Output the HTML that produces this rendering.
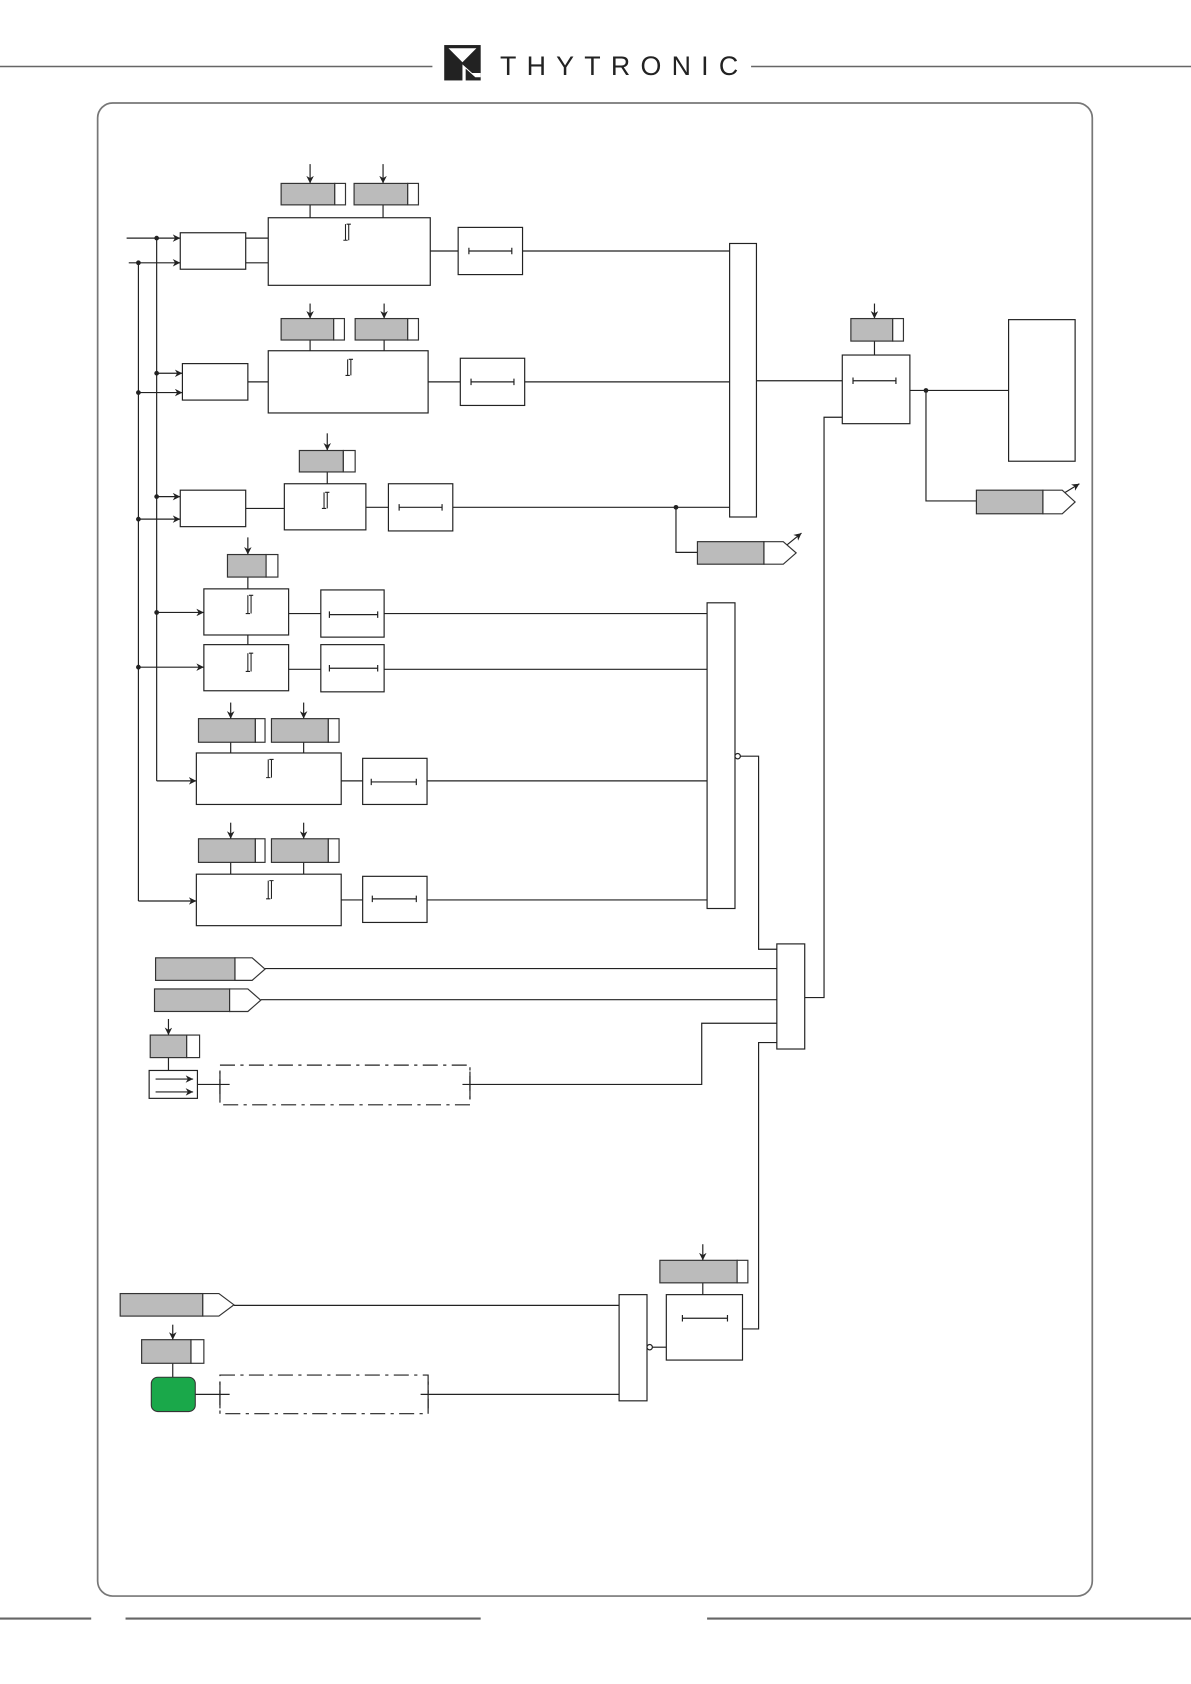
<!DOCTYPE html>
<html><head><meta charset="utf-8"><style>
html,body{margin:0;padding:0;background:#fff;}
svg{display:block;}
</style></head><body>
<svg width="1191" height="1684" viewBox="0 0 1110 1570" preserveAspectRatio="none" xmlns="http://www.w3.org/2000/svg">
<defs>
<marker id="ar" viewBox="0 0 10 10" refX="10" refY="5" markerWidth="7" markerHeight="7" orient="auto" markerUnits="userSpaceOnUse"><path d="M0,0 L10,5 L0,10 L3,5 z" fill="#222"/></marker>
</defs>
<!-- header -->
<g stroke="#666" stroke-width="1.3"><line x1="0" y1="62" x2="403" y2="62"/><line x1="700" y1="62" x2="1110" y2="62"/></g>
<rect x="414" y="42" width="34" height="33" fill="#222"/>
<path d="M418,45 L444,45 L431,58 Z" fill="#fff"/>
<path d="M431,60 L431,75 L434,75 L434,64 L443,72 L448,72 L448,68 L440,68 Z" fill="#fff"/>
<text x="466" y="70" font-family="Liberation Sans, sans-serif" font-size="25" fill="#222" textLength="222" lengthAdjust="spacing">THYTRONIC</text>
<!-- frame -->
<rect x="91" y="96" width="927" height="1392" rx="14" fill="none" stroke="#777" stroke-width="1.6"/>
<g stroke="#666" stroke-width="2"><line x1="0" y1="1509" x2="85" y2="1509"/><line x1="117" y1="1509" x2="448" y2="1509"/><line x1="659" y1="1509" x2="1110" y2="1509"/></g>

<g fill="none" stroke="#222" stroke-width="1.1">
<!-- verticals -->
<line x1="146" y1="222" x2="146" y2="728"/>
<line x1="129" y1="245" x2="129" y2="840"/>

<!-- Block 1 -->
<line x1="118" y1="222" x2="168" y2="222" marker-end="url(#ar)"/>
<line x1="120" y1="245" x2="168" y2="245" marker-end="url(#ar)"/>
<rect x="168" y="217" width="61" height="34"/>
<line x1="229" y1="222" x2="250" y2="222"/><line x1="229" y1="245" x2="250" y2="245"/>
<rect x="250" y="203" width="151" height="63"/>
<line x1="289" y1="153" x2="289" y2="171" marker-end="url(#ar)"/>
<line x1="357" y1="153" x2="357" y2="171" marker-end="url(#ar)"/>
<line x1="289" y1="191" x2="289" y2="203"/><line x1="357" y1="191" x2="357" y2="203"/>
<line x1="401" y1="234" x2="427" y2="234"/>
<rect x="427" y="212" width="60" height="44"/>
<path d="M437,234 H477 M437,231 v6 M477,231 v6"/>
<line x1="487" y1="234" x2="680" y2="234"/>
<rect x="680" y="227" width="25" height="255"/>

<!-- Block 2 -->
<line x1="146" y1="348" x2="170" y2="348" marker-end="url(#ar)"/>
<line x1="129" y1="366" x2="170" y2="366" marker-end="url(#ar)"/>
<rect x="170" y="339" width="61" height="34"/>
<line x1="231" y1="356" x2="250" y2="356"/>
<rect x="250" y="327" width="149" height="58"/>
<line x1="289" y1="283" x2="289" y2="297" marker-end="url(#ar)"/>
<line x1="358" y1="283" x2="358" y2="297" marker-end="url(#ar)"/>
<line x1="289" y1="317" x2="289" y2="327"/><line x1="358" y1="317" x2="358" y2="327"/>
<line x1="399" y1="356" x2="429" y2="356"/>
<rect x="429" y="334" width="60" height="44"/>
<path d="M439,356 H479 M439,353 v6 M479,353 v6"/>
<line x1="489" y1="356" x2="680" y2="356"/>

<!-- Block 3 -->
<line x1="146" y1="463" x2="168" y2="463" marker-end="url(#ar)"/>
<line x1="129" y1="484" x2="168" y2="484" marker-end="url(#ar)"/>
<rect x="168" y="457" width="61" height="34"/>
<line x1="229" y1="474" x2="265" y2="474"/>
<rect x="265" y="451" width="76" height="43"/>
<line x1="305" y1="404" x2="305" y2="420" marker-end="url(#ar)"/>
<line x1="305" y1="440" x2="305" y2="451"/>
<line x1="341" y1="473" x2="362" y2="473"/>
<rect x="362" y="451" width="60" height="44"/>
<path d="M372,473 H412 M372,470 v6 M412,470 v6"/>
<line x1="422" y1="473" x2="680" y2="473"/>
<path d="M630,473 V515 H650"/>
<line x1="731" y1="510" x2="747" y2="497" marker-end="url(#ar)"/>

<!-- Block 4 -->
<line x1="231" y1="501" x2="231" y2="517" marker-end="url(#ar)"/>
<line x1="231" y1="538" x2="231" y2="549"/>
<rect x="190" y="549" width="79" height="43"/>
<line x1="231" y1="592" x2="231" y2="601"/>
<rect x="190" y="601" width="79" height="43"/>
<line x1="146" y1="571" x2="190" y2="571" marker-end="url(#ar)"/>
<line x1="129" y1="622" x2="190" y2="622" marker-end="url(#ar)"/>
<line x1="269" y1="572" x2="299" y2="572"/><line x1="269" y1="624" x2="299" y2="624"/>
<rect x="299" y="550" width="59" height="44"/>
<path d="M307,573 H352 M307,570 v6 M352,570 v6"/>
<rect x="299" y="601" width="59" height="44"/>
<path d="M307,623 H352 M307,620 v6 M352,620 v6"/>
<line x1="358" y1="572" x2="659" y2="572"/>
<line x1="358" y1="624" x2="659" y2="624"/>
<rect x="659" y="562" width="26" height="285"/>

<!-- Block 5 -->
<line x1="215" y1="655" x2="215" y2="670" marker-end="url(#ar)"/>
<line x1="283" y1="655" x2="283" y2="670" marker-end="url(#ar)"/>
<line x1="215" y1="692" x2="215" y2="702"/><line x1="283" y1="692" x2="283" y2="702"/>
<rect x="183" y="702" width="135" height="48"/>
<line x1="146" y1="728" x2="183" y2="728" marker-end="url(#ar)"/>
<line x1="318" y1="728" x2="338" y2="728"/>
<rect x="338" y="707" width="60" height="43"/>
<path d="M346,729 H388 M346,726 v6 M388,726 v6"/>
<line x1="398" y1="728" x2="659" y2="728"/>

<!-- Block 6 -->
<line x1="215" y1="767" x2="215" y2="782" marker-end="url(#ar)"/>
<line x1="283" y1="767" x2="283" y2="782" marker-end="url(#ar)"/>
<line x1="215" y1="804" x2="215" y2="815"/><line x1="283" y1="804" x2="283" y2="815"/>
<rect x="183" y="815" width="135" height="48"/>
<line x1="129" y1="840" x2="183" y2="840" marker-end="url(#ar)"/>
<line x1="318" y1="839" x2="338" y2="839"/>
<rect x="338" y="817" width="60" height="43"/>
<path d="M347,838 H388 M347,835 v6 M388,835 v6"/>
<line x1="398" y1="839" x2="659" y2="839"/>

<!-- OR2 out -->
<circle cx="687.5" cy="705" r="2.5" fill="#fff"/>
<path d="M690,705 H707 V885 H724"/>
<rect x="724" y="880" width="26" height="98"/>
<line x1="247" y1="903" x2="724" y2="903"/>
<line x1="243" y1="932" x2="724" y2="932"/>
<line x1="157" y1="950" x2="157" y2="965" marker-end="url(#ar)"/>
<line x1="157" y1="986" x2="157" y2="998"/>
<rect x="139" y="998" width="45" height="26"/>
<line x1="145" y1="1006" x2="180" y2="1006" marker-end="url(#ar)"/>
<line x1="145" y1="1018" x2="180" y2="1018" marker-end="url(#ar)"/>
<line x1="184" y1="1011" x2="214" y2="1011"/>
<rect x="205" y="993" width="233" height="37" stroke-dasharray="14,5,3,5"/>
<line x1="205" y1="999" x2="205" y2="1025"/><line x1="438" y1="999" x2="438" y2="1025"/>
<path d="M431,1011 H654 V954 H724"/>
<path d="M724,972 H707 V1239 H692"/>
<path d="M750,930 H768 V389 H785"/>

<!-- right -->
<line x1="705" y1="355" x2="785" y2="355"/>
<line x1="815" y1="283" x2="815" y2="297" marker-end="url(#ar)"/>
<line x1="815" y1="318" x2="815" y2="331"/>
<rect x="785" y="331" width="63" height="64"/>
<path d="M795,355 H835 M795,352 v6 M835,352 v6"/>
<line x1="848" y1="364" x2="940" y2="364"/>
<path d="M863,364 V467 H910"/>
<rect x="940" y="298" width="62" height="132"/>
<line x1="988" y1="462" x2="1006" y2="451" marker-end="url(#ar)"/>

<!-- bottom -->
<line x1="218" y1="1217" x2="577" y2="1217"/>
<line x1="161" y1="1235" x2="161" y2="1249" marker-end="url(#ar)"/>
<line x1="161" y1="1271" x2="161" y2="1284"/>
<line x1="182" y1="1300" x2="214" y2="1300"/>
<rect x="205" y="1282" width="194" height="36" stroke-dasharray="14,5,3,5"/>
<line x1="205" y1="1288" x2="205" y2="1313"/><line x1="399" y1="1288" x2="399" y2="1313"/>
<line x1="392" y1="1300" x2="577" y2="1300"/>
<rect x="577" y="1207" width="26" height="99"/>
<circle cx="605.5" cy="1256" r="2.5" fill="#fff"/>
<line x1="608" y1="1256" x2="621" y2="1256"/>
<rect x="621" y="1207" width="71" height="61"/>
<path d="M636,1229 H678 M636,1226 v6 M678,1226 v6"/>
<line x1="655" y1="1160" x2="655" y2="1175" marker-end="url(#ar)"/>
<line x1="655" y1="1196" x2="655" y2="1207"/>

<!-- integrals -->
<g stroke-width="1">
<path d="M320,224 h4 M322,224 v-15 M325,224 v-15 M323,209 h4"/>
<path d="M322,350 h4 M324,350 v-15 M327,350 v-15 M325,335 h4"/>
<path d="M300,474 h4 M302,474 v-15 M305,474 v-15 M303,459 h4"/>
<path d="M229,572 h4 M231,572 v-17 M234,572 v-17 M232,555 h4"/>
<path d="M229,626 h4 M231,626 v-17 M234,626 v-17 M232,609 h4"/>
<path d="M248,725 h4 M250,725 v-17 M253,725 v-17 M251,708 h4"/>
<path d="M248,838 h4 M250,838 v-17 M253,838 v-17 M251,821 h4"/>
</g>
</g>

<!-- setting boxes (gray + white tail) -->
<g stroke="#333" stroke-width="1.1">
<g fill="#bbb">
<rect x="262" y="171" width="50" height="20"/><rect x="330" y="171" width="50" height="20"/>
<rect x="262" y="297" width="49" height="20"/><rect x="331" y="297" width="49" height="20"/>
<rect x="279" y="420" width="41" height="20"/>
<rect x="212" y="517" width="36" height="21"/>
<rect x="185" y="670" width="53" height="22"/><rect x="253" y="670" width="53" height="22"/>
<rect x="185" y="782" width="53" height="22"/><rect x="253" y="782" width="53" height="22"/>
<rect x="140" y="965" width="34" height="21"/>
<rect x="793" y="297" width="39" height="21"/>
<rect x="132" y="1249" width="46" height="22"/>
<rect x="615" y="1175" width="72" height="21"/>
<rect x="650" y="505" width="62" height="21"/>
<rect x="910" y="457" width="62" height="22"/>
<rect x="145" y="893" width="74" height="21"/>
<rect x="144" y="922" width="70" height="21"/>
<rect x="112" y="1206" width="77" height="21"/>
</g>
<g fill="#fff">
<rect x="312" y="171" width="10" height="20"/><rect x="380" y="171" width="10" height="20"/>
<rect x="311" y="297" width="10" height="20"/><rect x="380" y="297" width="10" height="20"/>
<rect x="320" y="420" width="11" height="20"/>
<rect x="248" y="517" width="11" height="21"/>
<rect x="238" y="670" width="9" height="22"/><rect x="306" y="670" width="10" height="22"/>
<rect x="238" y="782" width="9" height="22"/><rect x="306" y="782" width="10" height="22"/>
<rect x="174" y="965" width="12" height="21"/>
<rect x="832" y="297" width="10" height="21"/>
<rect x="178" y="1249" width="12" height="22"/>
<rect x="687" y="1175" width="10" height="21"/>
<path d="M712,505 H730 L742,515.5 L730,526 H712 Z"/>
<path d="M972,457 H990 L1002,468 L990,479 H972 Z"/>
<path d="M219,893 H235 L247,903.5 L235,914 H219 Z"/>
<path d="M214,922 H231 L243,932.5 L231,943 H214 Z"/>
<path d="M189,1206 H204 L218,1216.5 L204,1227 H189 Z"/>
</g>
</g>
<rect x="141" y="1284" width="41" height="32" rx="6" fill="#1aa84a" stroke="#333" stroke-width="1"/>

<!-- dots -->
<g fill="#222">
<circle cx="146" cy="222" r="2.2"/><circle cx="129" cy="245" r="2.2"/>
<circle cx="146" cy="348" r="2.2"/><circle cx="129" cy="366" r="2.2"/>
<circle cx="146" cy="463" r="2.2"/><circle cx="129" cy="484" r="2.2"/>
<circle cx="146" cy="571" r="2.2"/><circle cx="129" cy="622" r="2.2"/>
<circle cx="630" cy="473" r="2.2"/><circle cx="863" cy="364" r="2.2"/>
</g>
</svg>
</body></html>
